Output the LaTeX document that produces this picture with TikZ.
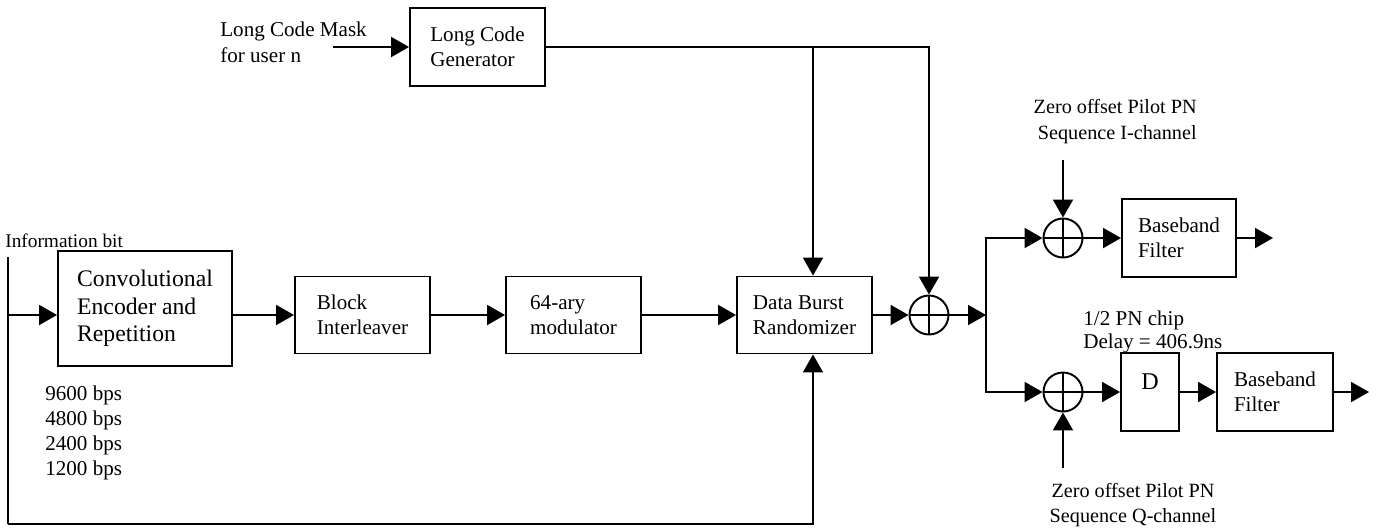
\documentclass[tikz,border=0pt]{standalone}
\usepackage{fontspec}
\setmainfont{Liberation Serif}
\usetikzlibrary{arrows.meta, positioning, calc}

\begin{document}
\begin{tikzpicture}[
    x=0.02cm, y=-0.02cm,
    block/.style={rectangle, draw, line width=1.1pt, minimum width=2.7cm,
                  minimum height=1.54cm, align=left, inner sep=0pt,
                  font=\fontsize{12}{14.4}\selectfont},
    xorop/.style={circle, draw, line width=1.1pt, minimum size=0.78cm,
                  inner sep=0pt,
                  path picture={\draw[line width=1.1pt]
                    (path picture bounding box.north) -- (path picture bounding box.south)
                    (path picture bounding box.west) -- (path picture bounding box.east);}},
    note/.style={inner sep=0pt, align=left,
                 font=\fontsize{12}{14.4}\selectfont},
    wire/.style={line width=1.1pt},
    sig/.style={line width=1.1pt, -{Triangle[length=0.36cm, width=0.4cm]}}
  ]
    \useasboundingbox (0,0) rectangle (1377,529);
    % Main chain (y=315)
    \node[block, minimum width=3.48cm, minimum height=2.3cm,
          font=\fontsize{13.5}{15.5}\selectfont] (conv) at (145,308.5)
      {Convolutional\\Encoder and\\Repetition};
    \node[block] (blk) at (362.5,315) {Block\\Interleaver};
    \node[block] (mod) at (573.5,315) {64-ary\\modulator};
    \node[block] (dbr) at (804.5,315) {Data Burst\\Randomizer};
    % Long code branch
    \node[block, minimum height=1.56cm] (lcg) at (477.5,47)
      {Long Code\\Generator};
    % Modulo-2 adders
    \node[xorop] (xm) at (929,315) {};
    \node[xorop] (xi) at (1063,238) {};
    \node[xorop] (xq) at (1063,392) {};
    % I and Q outputs
    \node[block, minimum width=2.28cm, minimum height=1.56cm] (bbi)
      at (1179,238) {Baseband\\Filter};
    \node[block, minimum width=1.16cm, minimum height=1.56cm, text depth=12pt,
          font=\fontsize{13.7}{16}\selectfont] (dly) at (1150,392) {D};
    \node[block, minimum width=2.32cm, minimum height=1.56cm] (bbq)
      at (1275,392) {Baseband\\Filter};
    % Labels (base = last line)
    \node[note, anchor=base west, font=\fontsize{11}{13}\selectfont] (info)
      at (5,247) {Information bit};
    \node[note, anchor=base west] (mask) at (220,62)
      {Long Code Mask\\for user n};
    \node[note, anchor=base west, font=\fontsize{12}{14.2}\selectfont] (rates)
      at (45,475) {9600 bps\\4800 bps\\2400 bps\\1200 bps};
    \node[note, anchor=base east, align=right,
          font=\fontsize{11.5}{14.7}\selectfont] (pnitxt) at (1197,139)
      {Zero offset Pilot PN\\Sequence I-channel};
    \node[note, anchor=base, align=center,
          font=\fontsize{11.5}{14.2}\selectfont] (pnqtxt) at (1133,522)
      {Zero offset Pilot PN\\Sequence Q-channel};
    \node[note, anchor=base west, font=\fontsize{12}{13}\selectfont] (dlytxt)
      at (1083,348) {1/2 PN chip\\Delay = 406.9ns};
    % Free ends and bends
    \coordinate (infotop) at (8,257);
    \coordinate (infosplit) at (8,315);
    \coordinate (infobot) at (8,524);
    \coordinate (maskend) at (333,47);
    \coordinate (tap) at (813,47);
    \coordinate (fork) at (986,315);
    \coordinate (pnitop) at (1063,160);
    \coordinate (pnqbot) at (1063,468);
    \coordinate (outi) at (1273,238);
    \coordinate (outq) at (1369,392);
    % Arrows: main chain
    \draw[wire] (infotop) -- (infobot);
    \draw[sig] (infosplit) -- (infosplit -| conv.west);
    \draw[sig] (conv.east |- blk) -- (blk);
    \draw[sig] (blk) -- (mod);
    \draw[sig] (mod) -- (dbr);
    \draw[sig] (dbr) -- (xm);
    % Arrows: long code
    \draw[sig] (maskend) -- (lcg);
    \draw[sig] (lcg.east) -| (xm);
    \draw[sig] (tap) -- (tap |- dbr.north);
    \draw[sig] (infobot) -| (tap |- dbr.south);
    % Arrows: I/Q split
    \draw[sig] (xm) -- (fork);
    \draw[sig] (fork) |- (xi);
    \draw[sig] (fork) |- (xq);
    \draw[sig] (pnitop) -- (xi);
    \draw[sig] (pnqbot) -- (xq);
    \draw[sig] (xi) -- (bbi);
    \draw[sig] (bbi) -- (outi);
    \draw[sig] (xq) -- (dly);
    \draw[sig] (dly) -- (bbq);
    \draw[sig] (bbq) -- (outq);
  \end{tikzpicture}
\end{document}
